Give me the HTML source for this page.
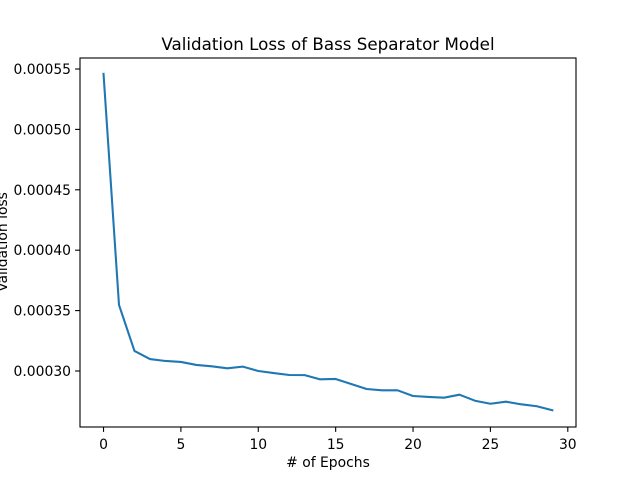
<!DOCTYPE html>
<html><head><meta charset="utf-8"><style>
body{margin:0;background:#fff}
svg text{font-family:"DejaVu Sans","Liberation Sans",sans-serif;fill:#000}
</style></head><body>
<svg id="c" width="640" height="480" xmlns="http://www.w3.org/2000/svg">
<rect width="640" height="480" fill="#fff"/>
<text x="328" y="50" font-size="16.7" text-anchor="middle">Validation Loss of Bass Separator Model</text>
<text x="328" y="467" font-size="13.9" text-anchor="middle"># of Epochs</text>
<text transform="translate(7,242) rotate(-90)" font-size="13.9" text-anchor="middle">Validation loss</text>
<g id="ticks"></g>
<polyline id="line" fill="none" stroke="#1f77b4" stroke-width="2.08" stroke-linejoin="round" stroke-linecap="square"/>
<rect x="80" y="58" width="496" height="369" fill="none" stroke="#000" stroke-width="1.1"/>
</svg>
<script>
const epochs=[0,1,2,3,4,5,6,7,8,9,10,11,12,13,14,15,16,17,18,19,20,21,22,23,24,25,26,27,28,29];
const losses=[0.000546,0.0003547,0.0003166,0.0003099,0.0003083,0.0003075,0.0003050,0.0003039,0.0003022,0.0003036,0.0003000,0.0002983,0.0002967,0.0002966,0.0002931,0.0002934,0.0002892,0.0002851,0.0002840,0.0002840,0.0002793,0.0002785,0.0002779,0.0002804,0.0002754,0.0002729,0.0002746,0.0002724,0.0002708,0.0002675];
const xTicks=[0,5,10,15,20,25,30];
const yTicks=[0.00030,0.00035,0.00040,0.00045,0.00050,0.00055];
const X0=80,X1=576,Y0=58,Y1=427;
const xmin=-1.52,xmax=30.53,ymin=0.00025364,ymax=0.0005591;
const sx=v=>X0+(v-xmin)/(xmax-xmin)*(X1-X0);
const sy=v=>Y1-(v-ymin)/(ymax-ymin)*(Y1-Y0);
const NS="http://www.w3.org/2000/svg";
const g=document.getElementById('ticks');
function mk(t,a){const e=document.createElementNS(NS,t);for(const k in a)e.setAttribute(k,a[k]);return e;}
xTicks.forEach(t=>{
 const x=sx(t);
 const l=mk('line',{x1:x,x2:x,y1:Y1,y2:Y1+4.9,stroke:'#000','stroke-width':1.1});
 
 
 g.appendChild(l);
 const tx=mk('text',{x:x,y:Y1+22,'font-size':13.9,'text-anchor':'middle'});
 tx.textContent=t;
 
 
 g.appendChild(tx);
});
yTicks.forEach(t=>{
 const y=sy(t);
 const l=mk('line',{x1:X0-4.9,x2:X0,y1:y,y2:y,stroke:'#000','stroke-width':1.1});
 
 
 g.appendChild(l);
 const tx=mk('text',{x:X0-9,y:y+5,'font-size':13.9,'text-anchor':'end'});
 tx.textContent=t.toFixed(5);
 
 
 g.appendChild(tx);
});
document.getElementById('line').setAttribute('points',epochs.map((e,i)=>sx(e)+','+sy(losses[i])).join(' '));
</script>
</body></html>
